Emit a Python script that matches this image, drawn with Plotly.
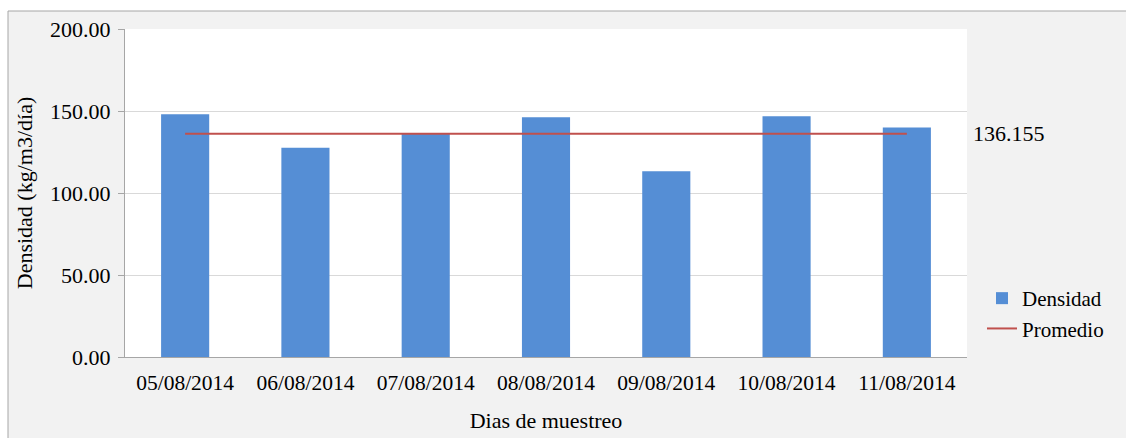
import plotly.graph_objects as go

fechas = ["05/08/2014", "06/08/2014", "07/08/2014", "08/08/2014",
          "09/08/2014", "10/08/2014", "11/08/2014"]
densidad = [148.0, 127.6, 136.0, 146.2, 113.3, 146.8, 140.0]
promedio = 136.155
promedio_serie = [promedio] * len(fechas)
y_ticks = [0, 50, 100, 150, 200]
y_ticklabels = ["0.00", "50.00", "100.00", "150.00", "200.00"]

W, H = 1126, 438
L, R, T, B = 125, 159, 29, 81
pw, ph = W - L - R, H - T - B

def px_x(p):
    return (p - L) / pw

def px_y(p):
    return (H - B - p) / ph

FONT = "Liberation Serif"
fig = go.Figure()
fig.add_trace(go.Bar(x=fechas, y=densidad, name="Densidad",
                     marker=dict(color="#558ED5", line=dict(width=0))))
fig.add_trace(go.Scatter(x=fechas, y=promedio_serie, name="Promedio",
                         mode="lines", line=dict(color="#C0504D", width=2)))

fig.add_annotation(x=px_x(971), y=promedio, xref="paper", yref="y",
                   text="136.155", showarrow=False, xanchor="left",
                   font=dict(family=FONT, size=22, color="#000"))

# outer frame: white strips + gray border
fig.add_shape(type="rect", xref="paper", yref="paper",
              x0=px_x(-10), x1=px_x(W + 10), y0=px_y(11), y1=px_y(-10),
              fillcolor="white", line=dict(width=0), layer="below")
fig.add_shape(type="rect", xref="paper", yref="paper",
              x0=px_x(-10), x1=px_x(8), y0=px_y(H + 10), y1=px_y(-10),
              fillcolor="white", line=dict(width=0), layer="below")
fig.add_shape(type="line", xref="paper", yref="paper",
              x0=px_x(8), x1=px_x(W + 5), y0=px_y(11), y1=px_y(11),
              line=dict(color="#A6A6A6", width=1))
fig.add_shape(type="line", xref="paper", yref="paper",
              x0=px_x(8), x1=px_x(8), y0=px_y(11), y1=px_y(H + 5),
              line=dict(color="#A6A6A6", width=1))

fig.update_layout(
    width=W, height=H,
    margin=dict(l=L, r=R, t=T, b=B, autoexpand=False),
    paper_bgcolor="#F2F2F2", plot_bgcolor="white",
    bargap=0.6,
    font=dict(family=FONT, size=22, color="#000"),
    legend=dict(x=px_x(982), y=px_y(278), xanchor="left", yanchor="top",
                font=dict(family=FONT, size=21), bgcolor="rgba(0,0,0,0)",
                tracegroupgap=0, itemwidth=30),
    showlegend=True,
    xaxis=dict(showgrid=False, showline=True, linecolor="#A6A6A6",
               ticks="", tickfont=dict(family=FONT, size=21.5),
               ticklabelstandoff=6,
               title=dict(text="Dias de muestreo", standoff=18,
                          font=dict(family=FONT, size=22))),
    yaxis=dict(range=[0, 200], tickvals=y_ticks, ticktext=y_ticklabels,
               showgrid=True, gridcolor="#D9D9D9", gridwidth=1,
               showline=True, linecolor="#A6A6A6", ticks="outside",
               ticklen=6, tickcolor="#A6A6A6", zeroline=False,
               tickfont=dict(family=FONT, size=22), ticklabelstandoff=3,
               title=dict(text="Densidad (kg/m3/día)", standoff=11,
                          font=dict(family=FONT, size=22))),
)

fig.write_html("out.html", config={"displayModeBar": False},
               post_script="document.body.style.margin='0';document.body.style.overflow='hidden';")
